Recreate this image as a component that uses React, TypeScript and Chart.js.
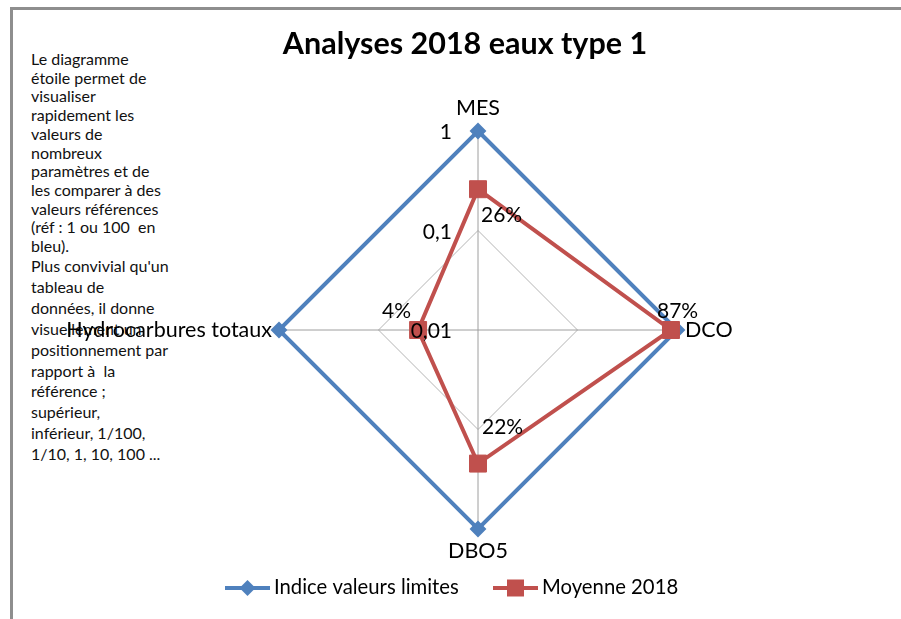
import React, { useEffect, useRef } from 'react';
import { Chart, registerables } from 'chart.js';

Chart.register(...registerables);

const categories = ['MES', 'DCO', 'DBO5', 'Hydrocarbures totaux'];
const seriesNames = ['Indice valeurs limites', 'Moyenne 2018'];
const limitValues = [1, 1, 1, 1];
const mean2018 = [0.26, 0.87, 0.22, 0.04];
const meanLabels = ['26%', '87%', '22%', '4%'];
const tickValues = [0.01, 0.1, 1];
const tickLabels = ['0,01', '0,1', '1'];
const titleText = 'Analyses 2018 eaux type 1';
const noteLinesTop = [
  'Le diagramme',
  'étoile permet de',
  'visualiser',
  'rapidement les',
  'valeurs de',
  'nombreux',
  'paramètres et de',
  'les comparer à des',
  'valeurs références',
  '(réf : 1 ou 100  en',
  'bleu).',
];
const noteLinesBottom = [
  "Plus convivial qu'un",
  'tableau de',
  'données, il donne',
  'visuellement un',
  'positionnement par',
  'rapport à  la',
  'référence ;',
  'supérieur,',
  'inférieur, 1/100,',
  '1/10, 1, 10, 100 ...',
];

const BLUE = '#4F81BD';
const RED = '#C0504D';
const FONT = 'Lato, "Liberation Sans", sans-serif';

// label placement styling (offsets from anchor points, in px)
const categoryOffsets = [
  { dx: 0, dy: -16, align: 'center' },
  { dx: 8, dy: 7, align: 'left' },
  { dx: 0, dy: 29, align: 'center' },
  { dx: -7, dy: 7, align: 'right' },
];
const valueLabelOffsets = [
  { dx: 3, dy: 33 },
  { dx: -14, dy: -12 },
  { dx: 4, dy: -30 },
  { dx: -36, dy: -12 },
];

const textPlugin = {
  id: 'textPlugin',
  afterDraw(chart: any) {
    const ctx = chart.ctx as CanvasRenderingContext2D;
    const scale = chart.scales.r;
    ctx.save();
    ctx.fillStyle = '#000';
    ctx.textBaseline = 'alphabetic';

    // title
    ctx.font = `bold 30.5px ${FONT}`;
    ctx.textAlign = 'center';
    ctx.fillText(titleText, 465, 54);

    // category labels
    ctx.font = `21.5px ${FONT}`;
    categories.forEach((c, i) => {
      const p = scale.getPointPosition(i, scale.drawingArea);
      const o = categoryOffsets[i];
      ctx.textAlign = o.align as CanvasTextAlign;
      ctx.fillText(c, p.x + o.dx, p.y + o.dy);
    });

    // tick labels
    ctx.font = `21px ${FONT}`;
    ctx.textAlign = 'right';
    tickValues.forEach((v, i) => {
      const d = scale.getDistanceFromCenterForValue(Math.log10(v));
      ctx.fillText(tickLabels[i], scale.xCenter - 26, scale.yCenter - d + 8);
    });

    // value labels
    ctx.textAlign = 'left';
    const meta = chart.getDatasetMeta(1);
    meta.data.forEach((pt: any, i: number) => {
      const o = valueLabelOffsets[i];
      ctx.fillText(meanLabels[i], pt.x + o.dx, pt.y + o.dy);
    });

    // legend
    const legendY = 588;
    const items = [
      { x: 225, color: BLUE, marker: 'diamond' },
      { x: 493, color: RED, marker: 'square' },
    ];
    ctx.font = `20.3px ${FONT}`;
    items.forEach((it, i) => {
      ctx.strokeStyle = it.color;
      ctx.fillStyle = it.color;
      ctx.lineWidth = 4;
      ctx.beginPath();
      ctx.moveTo(it.x, legendY);
      ctx.lineTo(it.x + 45, legendY);
      ctx.stroke();
      const cx = it.x + 22.5;
      ctx.beginPath();
      if (it.marker === 'diamond') {
        ctx.moveTo(cx - 8, legendY);
        ctx.lineTo(cx, legendY - 8);
        ctx.lineTo(cx + 8, legendY);
        ctx.lineTo(cx, legendY + 8);
        ctx.closePath();
      } else {
        ctx.rect(cx - 8.5, legendY - 8.5, 17, 17);
      }
      ctx.fill();
      ctx.fillStyle = '#000';
      ctx.textAlign = 'left';
      ctx.fillText(seriesNames[i], it.x + 49, 594);
    });
    ctx.restore();
  },
};

export default function App() {
  const canvasRef = useRef<HTMLCanvasElement | null>(null);

  useEffect(() => {
    if (!canvasRef.current) return;
    const chart = new Chart(canvasRef.current, {
      type: 'radar',
      data: {
        labels: categories,
        datasets: [
          {
            label: seriesNames[0],
            data: limitValues.map((v) => Math.log10(v)),
            borderColor: BLUE,
            backgroundColor: BLUE,
            borderWidth: 4,
            fill: false,
            pointStyle: 'rectRot',
            pointRadius: 7,
            pointBorderWidth: 2,
            pointBackgroundColor: BLUE,
            pointBorderColor: BLUE,
            order: 1,
            clip: false,
          } as any,
          {
            label: seriesNames[1],
            data: mean2018.map((v) => Math.log10(v)),
            borderColor: RED,
            backgroundColor: RED,
            borderWidth: 4,
            fill: false,
            pointStyle: 'rect',
            pointRadius: 12,
            pointBorderWidth: 1,
            pointBackgroundColor: RED,
            pointBorderColor: RED,
            order: 0,
            clip: false,
          } as any,
        ],
      },
      options: {
        responsive: false,
        animation: false,
        devicePixelRatio: 1,
        layout: { padding: { left: 279, right: 224, top: 131, bottom: 90 } },
        elements: { line: { tension: 0 } },
        plugins: {
          legend: { display: false },
          title: { display: false },
          tooltip: { enabled: false },
        },
        scales: {
          r: {
            min: -2,
            max: 0,
            ticks: { display: false, stepSize: 1 },
            grid: { color: '#B4B4B4', lineWidth: 1 },
            angleLines: { color: '#9E9E9E', lineWidth: 1 },
            pointLabels: { display: false },
          },
        },
      } as any,
      plugins: [textPlugin],
    });
    return () => chart.destroy();
  }, []);

  const noteStyle = {
    position: 'absolute' as const,
    left: 31,
    fontFamily: FONT,
    fontSize: 16,
    color: '#111',
    whiteSpace: 'pre' as const,
  };

  return (
    <div
      style={{
        position: 'fixed',
        left: 0,
        top: 0,
        width: 901,
        height: 619,
        background: '#fff',
        overflow: 'hidden',
      }}
    >
      <div
        style={{
          position: 'absolute',
          left: 10,
          top: 7,
          width: 901,
          height: 619,
          borderLeft: '3px solid #8E8E8E',
          borderTop: '3px solid #8E8E8E',
        }}
      />
      <div style={{ ...noteStyle, top: 50, lineHeight: '18.7px' }}>
        {noteLinesTop.map((l, i) => (
          <div key={i}>{l}</div>
        ))}
      </div>
      <div style={{ ...noteStyle, top: 256, lineHeight: '20.9px' }}>
        {noteLinesBottom.map((l, i) => (
          <div key={i}>{l}</div>
        ))}
      </div>
      <canvas
        ref={canvasRef}
        width={901}
        height={619}
        style={{ position: 'absolute', left: 0, top: 0, width: 901, height: 619 }}
      />
    </div>
  );
}
